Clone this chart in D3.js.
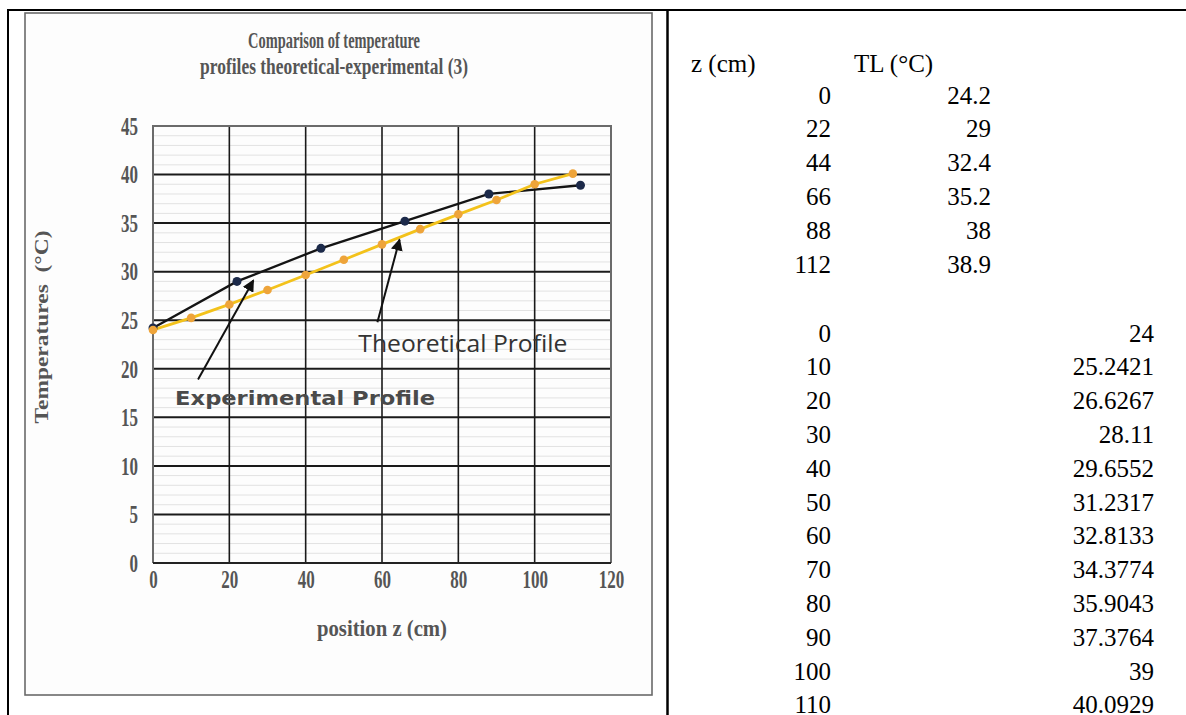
<!DOCTYPE html>
<html>
<head>
<meta charset="utf-8">
<script src="https://cdn.jsdelivr.net/npm/d3@7"></script>
<style>
  html, body { margin: 0; padding: 0; background: #fff; }
  svg { display: block; }
</style>
</head>
<body>
<svg id="chart" width="1186" height="715"></svg>
<script>
// ---------------- data ----------------
const chartTitle = ["Comparison of temperature", "profiles theoretical-experimental (3)"];
const xTitle = "position z (cm)";
const yTitle = "Temperatures  (°C)";

const expZ = [0, 22, 44, 66, 88, 112];
const expT = [24.2, 29, 32.4, 35.2, 38, 38.9];

const theoZ = [0, 10, 20, 30, 40, 50, 60, 70, 80, 90, 100, 110];
const theoT = [24, 25.2421, 26.6267, 28.11, 29.6552, 31.2317, 32.8133, 34.3774, 35.9043, 37.3764, 39, 40.0929];

const xTicks = [0, 20, 40, 60, 80, 100, 120];
const yTicks = [0, 5, 10, 15, 20, 25, 30, 35, 40, 45];
const yMinor = d3.range(0, 46, 1);

const tableHead = ["z (cm)", "TL (°C)"];

// annotation labels (in data units)
const annoLabels = ["Experimental Profile", "Theoretical Profile"];
const annoTextAt = [[5.8, 16.3], [53.8, 21.7]];
const annoFrom = [[11.8, 18.9], [58.8, 24.8]];
const annoTo = [[26.3, 29.1], [64.6, 33.3]];

// ---------------- drawing ----------------
const svg = d3.select("#chart");
const W = 1186, H = 715;

function squeeze(sel, f) {
  sel.each(function () {
    const w = this.getComputedTextLength();
    d3.select(this).attr("textLength", w * f).attr("lengthAdjust", "spacingAndGlyphs");
  });
}

// page borders (document table lines)
svg.append("line").attr("x1", 7).attr("x2", W).attr("y1", 10).attr("y2", 10)
  .attr("stroke", "#000").attr("stroke-width", 2);
svg.append("line").attr("x1", 8).attr("x2", 8).attr("y1", 9).attr("y2", H)
  .attr("stroke", "#000").attr("stroke-width", 2);
svg.append("line").attr("x1", 667.5).attr("x2", 667.5).attr("y1", 9).attr("y2", H)
  .attr("stroke", "#000").attr("stroke-width", 2.5);

// chart frame
svg.append("rect").attr("x", 25).attr("y", 13).attr("width", 627).attr("height", 682)
  .attr("fill", "#fdfdfd").attr("stroke", "#6a6a6a").attr("stroke-width", 1.6);

const x = d3.scaleLinear().domain([0, 120]).range([153, 611]);
const y = d3.scaleLinear().domain([0, 45]).range([563, 126]);

const g = svg.append("g");

// minor horizontal grid
g.append("g").selectAll("line").data(yMinor.filter(v => v % 5 !== 0)).join("line")
  .attr("x1", x(0)).attr("x2", x(120)).attr("y1", d => y(d)).attr("y2", d => y(d))
  .attr("stroke", "#e2e2e2").attr("stroke-width", 1);

// major horizontal grid
g.append("g").selectAll("line").data(yTicks.filter(v => v > 0 && v < 45)).join("line")
  .attr("x1", x(0)).attr("x2", x(120)).attr("y1", d => y(d)).attr("y2", d => y(d))
  .attr("stroke", "#1a1a1a").attr("stroke-width", 2);

// vertical grid
g.append("g").selectAll("line").data(xTicks.filter(v => v > 0 && v < 120)).join("line")
  .attr("x1", d => x(d)).attr("x2", d => x(d)).attr("y1", y(45)).attr("y2", y(0))
  .attr("stroke", "#1a1a1a").attr("stroke-width", 1.6);

// plot border
g.append("path")
  .attr("d", `M${x(0)},${y(0)}V${y(45)}H${x(120)}V${y(0)}`)
  .attr("fill", "none").attr("stroke", "#6b6b6b").attr("stroke-width", 2);
g.append("line").attr("x1", x(0)).attr("x2", x(120)).attr("y1", y(0)).attr("y2", y(0))
  .attr("stroke", "#222").attr("stroke-width", 2.2);

// axes labels via d3 axes
const tickFont = "'Liberation Serif', 'Times New Roman', serif";
const xAxis = svg.append("g").attr("transform", `translate(0,${y(0)})`)
  .call(d3.axisBottom(x).tickValues(xTicks).tickSize(0).tickPadding(20));
xAxis.select(".domain").remove();
xAxis.selectAll("text").attr("font-family", tickFont).attr("font-weight", "bold")
  .attr("font-size", 25).attr("fill", "#555").attr("dy", "0.2em");
squeeze(xAxis.selectAll("text"), 0.68);

const yAxis = svg.append("g").attr("transform", `translate(${x(0)},0)`)
  .call(d3.axisLeft(y).tickValues(yTicks).tickSize(0).tickPadding(15));
yAxis.select(".domain").remove();
yAxis.selectAll("text").attr("font-family", tickFont).attr("font-weight", "bold")
  .attr("font-size", 25).attr("fill", "#555").attr("dy", "0.33em");
squeeze(yAxis.selectAll("text"), 0.68);

// title
const titleLen = [172, 268];
svg.append("g").selectAll("text").data(chartTitle).join("text")
  .attr("x", 334).attr("y", (d, i) => 48 + i * 26)
  .attr("text-anchor", "middle")
  .attr("font-family", tickFont).attr("font-weight", "bold").attr("font-size", 23)
  .attr("fill", "#555").text(d => d)
  .attr("textLength", (d, i) => titleLen[i]).attr("lengthAdjust", "spacingAndGlyphs");

// axis titles
svg.append("text").attr("x", (x(0) + x(120)) / 2).attr("y", 636)
  .attr("text-anchor", "middle").attr("font-family", tickFont).attr("font-weight", "bold")
  .attr("font-size", 23).attr("fill", "#555").text(xTitle)
  .attr("textLength", 130).attr("lengthAdjust", "spacingAndGlyphs");

svg.append("text").attr("transform", `translate(48,327) rotate(-90)`)
  .attr("text-anchor", "middle").attr("font-family", tickFont).attr("font-weight", "bold")
  .attr("font-size", 18).attr("fill", "#555").style("white-space", "pre").text(yTitle)
  .attr("textLength", 193).attr("lengthAdjust", "spacingAndGlyphs");

// series
const expData = expZ.map((z, i) => [z, expT[i]]);
const theoData = theoZ.map((z, i) => [z, theoT[i]]);
const line = d3.line().x(d => x(d[0])).y(d => y(d[1]));

g.append("path").datum(expData).attr("d", line)
  .attr("fill", "none").attr("stroke", "#141414").attr("stroke-width", 2.3);
g.append("path").datum(theoData).attr("d", line)
  .attr("fill", "none").attr("stroke", "#f3c21b").attr("stroke-width", 2.8);

g.append("g").selectAll("circle").data(expData).join("circle")
  .attr("cx", d => x(d[0])).attr("cy", d => y(d[1])).attr("r", 4.5)
  .attr("fill", "#1c2a4a");
g.append("g").selectAll("circle").data(theoData).join("circle")
  .attr("cx", d => x(d[0])).attr("cy", d => y(d[1])).attr("r", 4.3)
  .attr("fill", "#eea43a");

// annotations
const defs = svg.append("defs");
defs.append("marker").attr("id", "arrow").attr("viewBox", "0 0 10 10")
  .attr("refX", 9).attr("refY", 5).attr("markerWidth", 6).attr("markerHeight", 6)
  .attr("orient", "auto").attr("markerUnits", "strokeWidth")
  .append("path").attr("d", "M0,0L10,5L0,10z").attr("fill", "#111");

svg.append("g").selectAll("line").data(annoFrom).join("line")
  .attr("x1", d => x(d[0])).attr("y1", d => y(d[1]))
  .attr("x2", (d, i) => x(annoTo[i][0])).attr("y2", (d, i) => y(annoTo[i][1]))
  .attr("stroke", "#111").attr("stroke-width", 2).attr("marker-end", "url(#arrow)");

svg.append("text").attr("x", x(annoTextAt[0][0])).attr("y", y(annoTextAt[0][1]))
  .attr("font-family", "'DejaVu Sans', Verdana, sans-serif").attr("font-weight", "bold")
  .attr("font-size", 20).attr("fill", "#4a4a4a").text(annoLabels[0])
  .attr("textLength", 260).attr("lengthAdjust", "spacingAndGlyphs");

svg.append("text").attr("x", x(annoTextAt[1][0])).attr("y", y(annoTextAt[1][1]))
  .attr("font-family", "'Open Sans', 'Liberation Sans', sans-serif")
  .attr("font-size", 23).attr("fill", "#333").text(annoLabels[1])
  .attr("textLength", 209).attr("lengthAdjust", "spacingAndGlyphs");

// ---------------- right side table ----------------
const tFont = "'Liberation Serif', 'Times New Roman', serif";
const tbl = svg.append("g").attr("font-family", tFont).attr("font-size", 25).attr("fill", "#000");

tbl.append("text").attr("x", 691).attr("y", 72).text(tableHead[0]);
tbl.append("text").attr("x", 854).attr("y", 72).text(tableHead[1]);

const row1 = d3.scaleLinear().domain([0, 1]).range([103.5, 137.3]);
const row2 = d3.scaleLinear().domain([0, 1]).range([341.5, 375.3]);

tbl.append("g").selectAll("text").data(expZ).join("text")
  .attr("x", 831).attr("y", (d, i) => row1(i)).attr("text-anchor", "end").text(d => d);
tbl.append("g").selectAll("text").data(expT).join("text")
  .attr("x", 991).attr("y", (d, i) => row1(i)).attr("text-anchor", "end").text(d => d);

tbl.append("g").selectAll("text").data(theoZ).join("text")
  .attr("x", 831).attr("y", (d, i) => row2(i)).attr("text-anchor", "end").text(d => d);
tbl.append("g").selectAll("text").data(theoT).join("text")
  .attr("x", 1154).attr("y", (d, i) => row2(i)).attr("text-anchor", "end").text(d => d);
</script>
</body>
</html>
